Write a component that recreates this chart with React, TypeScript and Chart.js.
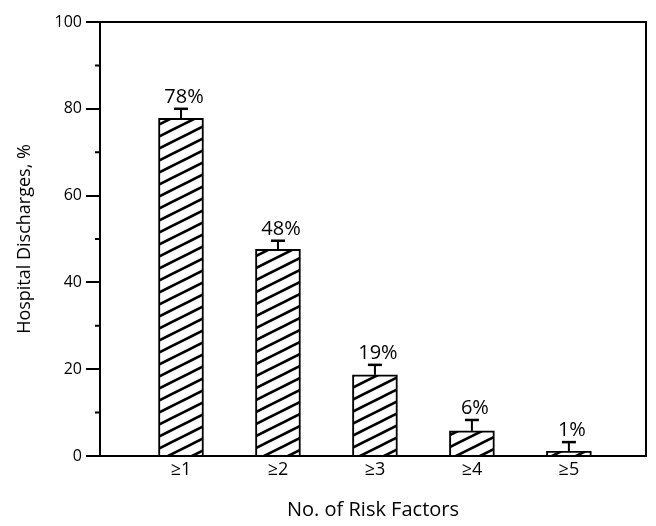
import React, { useEffect, useRef } from 'react';
import { Chart, registerables } from 'chart.js';

Chart.register(...registerables);

const categories = ['≥1', '≥2', '≥3', '≥4', '≥5'];
const barValues = [77.8, 47.6, 18.7, 5.8, 1.1];
const errorUpper = [80.0, 49.6, 21.0, 8.3, 3.2];
const valueLabels = ['78%', '48%', '19%', '6%', '1%'];
const yMinorTicks = [10, 30, 50, 70, 90];
const xTitle = 'No. of Risk Factors';
const yTitle = 'Hospital Discharges, %';

const FONT = "'Open Sans', sans-serif";

function makeHatch(): CanvasPattern | string {
  const c = document.createElement('canvas');
  c.width = 24;
  c.height = 12;
  const g = c.getContext('2d');
  if (!g) return '#fff';
  g.fillStyle = '#fff';
  g.fillRect(0, 0, 24, 12);
  g.strokeStyle = '#000';
  g.lineWidth = 2.6;
  for (const dy of [-12, 0, 12]) {
    g.beginPath();
    g.moveTo(-24, 24 + dy);
    g.lineTo(48, -12 + dy);
    g.stroke();
  }
  return g.createPattern(c, 'repeat') || '#fff';
}

const framePlugin = {
  id: 'frame',
  afterDraw(chart: any) {
    const { ctx, chartArea: a, scales } = chart;
    const y = scales.y;
    ctx.save();
    ctx.strokeStyle = '#000';
    ctx.lineWidth = 2;
    ctx.strokeRect(a.left, a.top, a.right - a.left, a.bottom - a.top);
    ctx.beginPath();
    yMinorTicks.forEach((v) => {
      const py = y.getPixelForValue(v);
      ctx.moveTo(a.left - 5, py);
      ctx.lineTo(a.left, py);
    });
    ctx.stroke();
    ctx.restore();
  },
};

const errorPlugin = {
  id: 'errbars',
  afterDatasetsDraw(chart: any) {
    const { ctx, scales } = chart;
    const y = scales.y;
    const meta = chart.getDatasetMeta(0);
    ctx.save();
    ctx.strokeStyle = '#000';
    ctx.fillStyle = '#000';
    meta.data.forEach((bar: any, i: number) => {
      const x = bar.x;
      const yTop = y.getPixelForValue(barValues[i]);
      const yErr = y.getPixelForValue(errorUpper[i]);
      ctx.lineWidth = 2;
      ctx.beginPath();
      ctx.moveTo(x, yTop);
      ctx.lineTo(x, yErr);
      ctx.stroke();
      ctx.lineWidth = 2.5;
      ctx.beginPath();
      ctx.moveTo(x - 7, yErr);
      ctx.lineTo(x + 7, yErr);
      ctx.stroke();
      ctx.font = `20px ${FONT}`;
      ctx.textAlign = 'center';
      ctx.textBaseline = 'alphabetic';
      ctx.fillText(valueLabels[i], x + 3, yErr - 6);
    });
    ctx.restore();
  },
};

export default function App() {
  const ref = useRef<HTMLCanvasElement | null>(null);

  useEffect(() => {
    if (!ref.current) return;
    const hatch = makeHatch();
    const chart = new Chart(ref.current, {
      type: 'bar',
      data: {
        datasets: [
          {
            data: barValues.map((v, i) => ({ x: i + 1, y: v })),
            backgroundColor: hatch as any,
            borderColor: '#000',
            borderWidth: 2,
            barThickness: 45,
          } as any,
        ],
      },
      options: {
        animation: false,
        responsive: false,
        layout: { padding: { top: 22, right: 10, left: 0, bottom: 0 } },
        plugins: { legend: { display: false }, tooltip: { enabled: false } },
        scales: {
          x: {
            type: 'linear',
            offset: false,
            min: 0.165,
            max: 5.795,
            afterBuildTicks: (s: any) => {
              s.ticks = categories.map((_, i) => ({ value: i + 1 }));
            },
            afterFit: (s: any) => {
              s.height = 70;
            },
            grid: { display: false, drawTicks: false, offset: false },
            border: { display: true, color: '#000', width: 2 },
            ticks: {
              callback: (v: any) => categories[Math.round(Number(v)) - 1] ?? '',
              font: { family: FONT, size: 18 },
              color: '#000',
              padding: 3,
              maxRotation: 0,
              autoSkip: false,
            },
            title: {
              display: true,
              text: xTitle,
              font: { family: FONT, size: 20 },
              color: '#000',
              padding: { top: 0, bottom: 4 },
            },
          },
          y: {
            min: 0,
            max: 100,
            afterFit: (s: any) => {
              s.width = 100;
            },
            grid: { drawOnChartArea: false, drawTicks: true, tickLength: 14, color: '#000', lineWidth: 2 },
            border: { display: true, color: '#000', width: 2 },
            ticks: { stepSize: 20, font: { family: FONT, size: 16 }, color: '#000', padding: 4 },
            title: {
              display: true,
              text: yTitle,
              font: { family: FONT, size: 18 },
              color: '#000',
              padding: { top: 14, bottom: 0 },
            },
          },
        },
      } as any,
      plugins: [framePlugin, errorPlugin],
    });
    return () => chart.destroy();
  }, []);

  return (
    <div style={{ position: 'fixed', left: 0, top: 0, width: 656, height: 526, background: '#fff' }}>
      <canvas ref={ref} width={656} height={526} style={{ display: 'block' }} />
    </div>
  );
}
